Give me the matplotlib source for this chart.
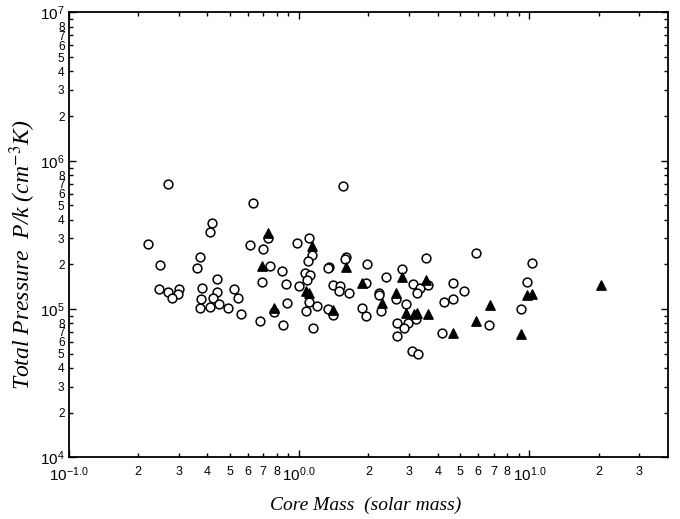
import matplotlib
matplotlib.use("Agg")
import matplotlib.pyplot as plt
from matplotlib.ticker import FixedLocator

plt.rcParams['mathtext.fontset'] = 'custom'
plt.rcParams['mathtext.rm'] = 'Liberation Sans'
plt.rcParams['mathtext.it'] = 'Liberation Sans:italic'
plt.rcParams['font.family'] = 'Liberation Sans'

# open circles: core mass (solar mass) and P/k
circle_mass = [0.27, 0.63, 0.42, 0.41, 0.22, 0.61, 0.70, 0.73, 0.98, 0.37,
               0.36, 0.25, 0.75, 0.84, 0.44, 0.246, 0.27, 0.30, 0.297, 0.28,
               0.38, 0.44, 0.52, 0.69, 0.88, 1.0, 0.375, 0.425, 0.545, 0.45,
               0.41, 0.37, 0.49, 0.56, 0.89, 0.78, 0.68, 0.85, 1.55, 1.11,
               1.135, 1.09, 1.06, 1.12, 1.08, 1.10, 1.07, 1.2, 1.15, 1.6,
               1.59, 1.35, 1.34, 1.97, 1.4, 1.5, 1.49, 1.64, 1.95, 1.34,
               1.4, 1.87, 1.95, 2.39, 2.81, 2.23, 2.22, 2.63, 2.28, 2.9,
               3.22, 2.97, 2.66, 2.85, 2.66, 3.1, 3.3, 3.55, 3.13, 3.36,
               3.64, 3.25, 4.68, 5.19, 4.27, 4.68, 4.19, 5.87, 10.3, 9.77,
               9.2, 6.7]
circle_pressure = [7.0e5, 5.2e5, 3.8e5, 3.3e5, 2.75e5, 2.7e5, 2.55e5, 3.0e5, 2.8e5, 2.25e5,
                   1.9e5, 1.98e5, 1.94e5, 1.8e5, 1.6e5, 1.37e5, 1.31e5, 1.36e5, 1.26e5, 1.19e5,
                   1.39e5, 1.31e5, 1.37e5, 1.52e5, 1.48e5, 1.43e5, 1.16e5, 1.19e5, 1.19e5, 1.08e5,
                   1.03e5, 1.01e5, 1.02e5, 9.3e4, 1.09e5, 9.6e4, 8.3e4, 7.8e4, 6.75e5, 3.0e5,
                   2.3e5, 2.1e5, 1.75e5, 1.7e5, 1.57e5, 1.12e5, 9.7e4, 1.04e5, 7.5e4, 2.24e5,
                   2.16e5, 1.92e5, 1.9e5, 2.0e5, 1.44e5, 1.43e5, 1.33e5, 1.28e5, 1.49e5, 1.0e5,
                   9.1e4, 1.02e5, 8.9e4, 1.65e5, 1.86e5, 1.28e5, 1.25e5, 1.17e5, 9.7e4, 1.08e5,
                   8.5e4, 8.1e4, 8.1e4, 7.5e4, 6.6e4, 5.2e4, 5.0e4, 2.2e5, 1.47e5, 1.38e5,
                   1.45e5, 1.28e5, 1.5e5, 1.33e5, 1.12e5, 1.16e5, 6.9e4, 2.4e5, 2.05e5, 1.52e5,
                   1.0e5, 7.8e4]

# filled triangles
tri_mass = [0.73, 0.69, 0.78, 1.135, 1.07, 1.10, 1.6, 1.88, 1.41, 2.79,
            2.63, 2.29, 2.9, 3.16, 3.26, 3.63, 3.55, 4.68, 5.87, 6.73,
            9.77, 10.3, 9.2, 20.5]
tri_pressure = [3.27e5, 1.96e5, 1.01e5, 2.66e5, 1.33e5, 1.28e5, 1.91e5, 1.49e5, 9.9e4, 1.64e5,
                1.28e5, 1.09e5, 9.4e4, 9.3e4, 9.4e4, 9.25e4, 1.57e5, 6.9e4, 8.3e4, 1.06e5,
                1.24e5, 1.26e5, 6.8e4, 1.44e5]

# tick labels
x_major = [0.1, 1, 10]
x_major_labels = [r'$10^{-1.0}$', r'$10^{0.0}$', r'$10^{1.0}$']
x_minor = [0.2, 0.3, 0.4, 0.5, 0.6, 0.7, 0.8, 0.9, 2, 3, 4, 5, 6, 7, 8, 9, 20, 30]
x_minor_labels = ['2', '3', '4', '5', '6', '7', '8', '', '2', '3', '4', '5', '6', '7', '8', '', '2', '3']
y_major = [1e4, 1e5, 1e6, 1e7]
y_major_labels = [r'$10^{4}$', r'$10^{5}$', r'$10^{6}$', r'$10^{7}$']
y_minor = [m * d for d in [1e4, 1e5, 1e6] for m in range(2, 10)]
y_minor_labels = [str(m) if m < 9 else '' for d in [1e4, 1e5, 1e6] for m in range(2, 10)]

fig = plt.figure(figsize=(6.8, 5.19), dpi=100)
ax = fig.add_axes([0.101, 0.119, 0.8814, 0.857])

ax.scatter(circle_mass, circle_pressure, s=40, marker='o', facecolors='white',
           edgecolors='black', linewidths=1.1, zorder=2)
ax.scatter(tri_mass, tri_pressure, s=45, marker='^', color='black', zorder=3)

ax.set_xscale('log')
ax.set_yscale('log')
ax.set_xlim(0.1, 40)
ax.set_ylim(1e4, 1e7)

ax.set_xticks(x_major)
ax.set_xticklabels(x_major_labels, fontsize=11)
ax.xaxis.set_minor_locator(FixedLocator(x_minor))
ax.set_xticks(x_minor, minor=True)
ax.set_xticklabels(x_minor_labels, minor=True, fontsize=9)

ax.set_yticks(y_major)
ax.set_yticklabels(y_major_labels, fontsize=11)
ax.set_yticks(y_minor, minor=True)
ax.set_yticklabels(y_minor_labels, minor=True, fontsize=8.5)

ax.tick_params(which='both', direction='in', top=True, right=True, width=1)
ax.tick_params(which='major', length=5)
ax.tick_params(which='minor', length=3)
ax.tick_params(axis='x', which='both', pad=6)
ax.tick_params(axis='y', which='both', pad=3)
for s in ax.spines.values():
    s.set_linewidth(1.3)

ax.set_xlabel('Core Mass  (solar mass)', family='Liberation Serif', style='italic', fontsize=14)
ax.set_ylabel('Total Pressure  P/k (cm$^{-3}$K)', family='Liberation Serif', style='italic',
              fontsize=17, math_fontfamily='stix')
ax.xaxis.set_label_coords(0.496, -0.089)
ax.yaxis.set_label_coords(-0.051, 0.455)

fig.savefig('out.png', dpi=100)
